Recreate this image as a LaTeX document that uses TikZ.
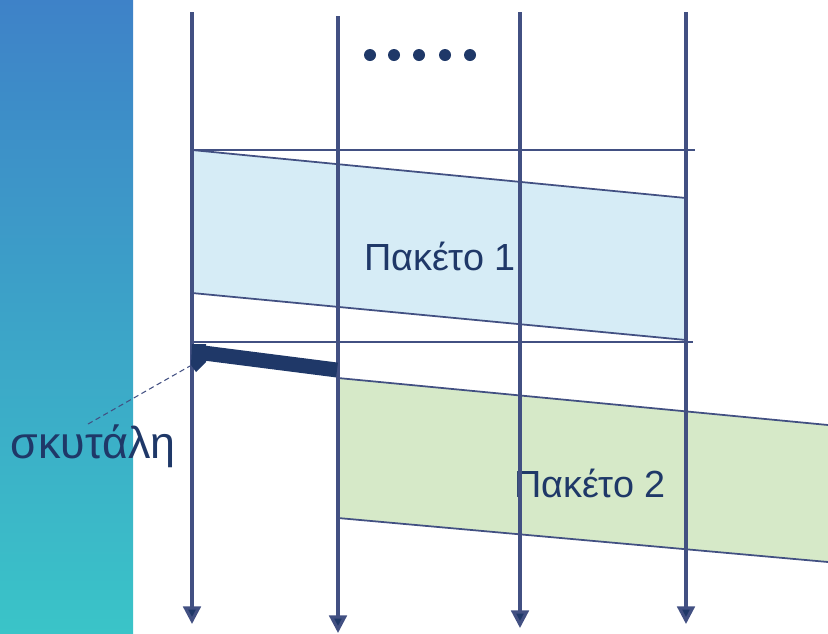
\documentclass[tikz,border=0pt]{standalone}
\usepackage{fontspec}
\setmainfont{Liberation Sans}
\usetikzlibrary{arrows.meta}
\definecolor{navy}{RGB}{31,56,104}
\definecolor{lineblue}{RGB}{66,80,130}
\definecolor{pktone}{RGB}{214,236,246}
\definecolor{pkttwo}{RGB}{214,233,200}
\tikzset{
  timeline/.style={lineblue, line width=1.8pt, -{Triangle[width=10pt,length=10pt,fill=navy]}},
  edge/.style={lineblue, line width=1pt},
  lbl/.style={text=navy, anchor=base, font=\fontsize{21.5}{25}\selectfont},
}
\begin{document}
\begin{tikzpicture}[x=0.02cm, y=-0.02cm]
			\useasboundingbox (0,0) rectangle (828,633);
			\shade[top color={rgb,255:red,62;green,130;blue,200}, middle color={rgb,255:red,24;green,178;blue,222}, bottom color={rgb,255:red,58;green,196;blue,200}] (0,0) rectangle (133,633);
			%%%%%%%%%%%%%%%%%%%%%%%%%%%%%%%%
			\fill[pktone] (192,150)--(686,198)--(686,340)--(192,293)--cycle;
			\draw[edge] (192,150)--(686,198);
			\draw[edge] (192,293)--(686,340);
			\node[lbl] (pkt1) at (440,270){Πακέτο 1};
			%%%%%%%%%%%%%%%%%%%%%%%%%%%%%%%%
			\fill[pkttwo] (338,378)--(828,425)--(828,562)--(338,518)--cycle;
			\draw[edge] (338,378)--(828,425);
			\draw[edge] (338,518)--(828,562);
			\node[lbl] (pkt2) at (590,497){Πακέτο 2};
			%%%%%%%%%%%%%%%%%%%%%%%%%%%%%%%%
			\draw[edge] (192,150)--(695,150);
			\draw[edge] (192,342)--(693,342);
			\draw[timeline] (192,12)--(192,624);
			\draw[timeline] (338,16)--(338,633);
			\draw[timeline] (520,12)--(520,628);
			\draw[timeline] (686,12)--(686,624);
			%%%%%%%%%%%%%%%%%%%%%%%%%%%%%%%%
			\draw[navy, line width=8.5pt] (196,352)--(337,370);
			\fill[navy] (192,344)--(206,344)--(206,362)--(196,372)--(191,365)--cycle;
			\coordinate (tok) at (190,366);
			\node[lbl, font=\fontsize{25.5}{30}\selectfont] (skyt) at (93,458){σκυτάλη};
			\coordinate (lead) at (88,424);
			\draw[lineblue, densely dashed, line width=0.6pt] (lead)--(tok);
			%%%%%%%%%%%%%%%%%%%%%%%%%%%%%%%%
			\foreach \x in {370,394,419,445,470}
				\fill[navy] (\x,55) circle (6);
		\end{tikzpicture}
\end{document}
